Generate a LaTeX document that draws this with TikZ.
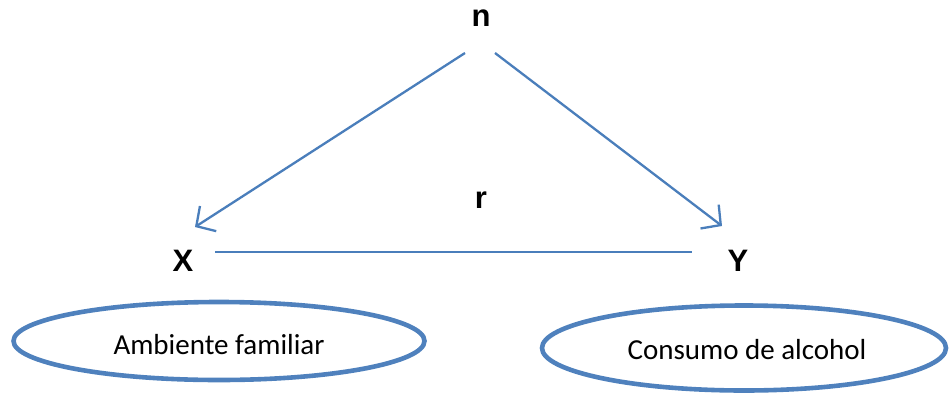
\documentclass[tikz,border=0pt]{standalone}
\usepackage{fontspec}
\setmainfont{Carlito}
\newfontfamily\letterfont{Liberation Sans}
\usetikzlibrary{arrows.meta,shapes.geometric}
\definecolor{lineblue}{HTML}{4A7EBB}
\definecolor{ellblue}{HTML}{4F81BD}
\tikzset{
  letter/.style={font=\letterfont\bfseries\fontsize{31}{36}\selectfont, inner sep=0pt},
  arrowline/.style={draw=lineblue, line width=2.3pt, -{Straight Barb[length=14pt,width=30pt,line width=2.3pt]}},
  plainline/.style={draw=lineblue, line width=2.3pt},
  ellnode/.style={draw=ellblue, line width=4.6pt, ellipse, inner sep=0pt},
  labeltext/.style={font=\fontsize{29}{35}\selectfont, inner sep=0pt},
}
\begin{document}
\begin{tikzpicture}[x=1pt,y=-1pt]
\useasboundingbox (0,0) rectangle (949,396);
\node[letter] (n) at (481,18) {n};
\node[letter] (r) at (481,200) {r};
\node[letter] (X) at (183,261) {X};
\node[letter] (Y) at (738,261) {Y};
\coordinate (nl) at (465,53);
\coordinate (nr) at (495,53);
\coordinate (xt) at (195,227);
\coordinate (yt) at (722,226);
\coordinate (hl) at (215,252);
\coordinate (hr) at (692,252);
\draw[arrowline] (nl) -- (xt);
\draw[arrowline] (nr) -- (yt);
\draw[plainline] (hl) -- (hr);
\node[ellnode, minimum width=411pt, minimum height=78pt] (amb) at (219,341) {};
\node[labeltext] (ambt) at (219,345) {Ambiente familiar};
\node[ellnode, minimum width=404pt, minimum height=85pt] (cons) at (744,348) {};
\node[labeltext] (const) at (747,350) {Consumo de alcohol};
\end{tikzpicture}
\end{document}
